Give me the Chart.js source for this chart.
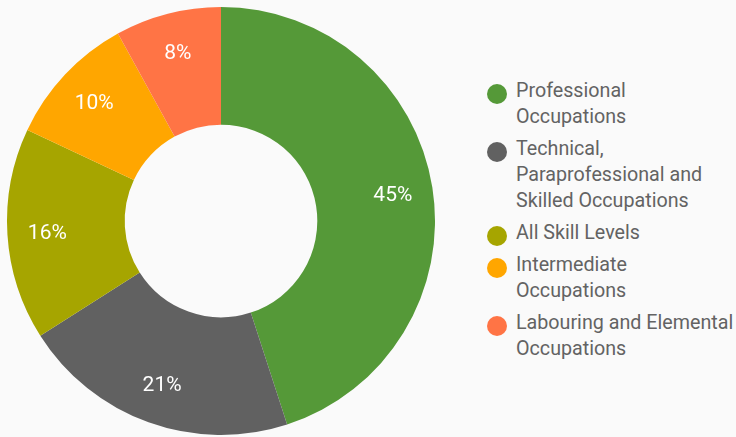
<!DOCTYPE html>
<html>
<head>
<meta charset="utf-8">
<script src="https://cdn.jsdelivr.net/npm/chart.js@4/dist/chart.umd.min.js"></script>
<style>
    html, body {
        margin: 0;
        padding: 0;
        background: #fafafa;
        width: 736px;
        height: 437px;
        overflow: hidden;
        font-family: Roboto, sans-serif;
    }
    #chartBox {
        position: absolute;
        left: 0;
        top: 0;
        width: 442px;
        height: 437px;
    }
    #legend {
        position: absolute;
        left: 487px;
        top: 78px;
        margin: 0;
        padding: 0;
        list-style: none;
        color: #636363;
        font-size: 19.7px;
        line-height: 26px;
    }
    #legend li {
        position: relative;
        padding-left: 29px;
        margin-bottom: 6px;
        white-space: nowrap;
    }
    #legend .dot {
        position: absolute;
        left: 0;
        top: 6px;
        width: 20px;
        height: 20px;
        border-radius: 50%;
    }
</style>
</head>
<body>
<div id="chartBox"><canvas id="occChart"></canvas></div>
<ul id="legend"></ul>
<script>
const categories = [
    ['Professional', 'Occupations'],
    ['Technical,', 'Paraprofessional and', 'Skilled Occupations'],
    ['All Skill Levels'],
    ['Intermediate', 'Occupations'],
    ['Labouring and Elemental', 'Occupations']
];
const shares = [45, 21, 16, 10, 8];
const colors = ['#559938', '#616161', '#a6a500', '#ffa600', '#ff7445'];

// white percentage text inside each slice
const sliceLabels = {
    id: 'sliceLabels',
    afterDatasetsDraw(chart) {
        const ctx = chart.ctx;
        const meta = chart.getDatasetMeta(0);
        ctx.save();
        ctx.fillStyle = '#ffffff';
        ctx.font = '21px Roboto';
        ctx.textAlign = 'center';
        ctx.textBaseline = 'middle';
        meta.data.forEach((arc, i) => {
            const p = arc.getProps(['x', 'y', 'startAngle', 'endAngle', 'innerRadius', 'outerRadius']);
            const mid = (p.startAngle + p.endAngle) / 2;
            const r = p.innerRadius + (p.outerRadius - p.innerRadius) * 0.66;
            ctx.fillText(shares[i] + '%', p.x + Math.cos(mid) * r, p.y + Math.sin(mid) * r + 1.5);
        });
        ctx.restore();
    }
};

const chart = new Chart(document.getElementById('occChart'), {
    type: 'doughnut',
    data: {
        labels: categories.map(c => c.join(' ')),
        datasets: [{
            data: shares,
            backgroundColor: colors,
            borderWidth: 0,
            hoverOffset: 0
        }]
    },
    options: {
        responsive: true,
        maintainAspectRatio: false,
        animation: false,
        cutout: '45%',
        layout: {
            padding: { left: 7, right: 7, top: 7, bottom: 2 }
        },
        plugins: {
            legend: { display: false },
            tooltip: { enabled: false }
        },
        events: []
    },
    plugins: [sliceLabels]
});

// legend on the right with wrapped lines
const legendEl = document.getElementById('legend');
categories.forEach((lines, i) => {
    const li = document.createElement('li');
    const dot = document.createElement('span');
    dot.className = 'dot';
    dot.style.background = colors[i];
    li.appendChild(dot);
    lines.forEach((line, j) => {
        if (j > 0) li.appendChild(document.createElement('br'));
        li.appendChild(document.createTextNode(line));
    });
    legendEl.appendChild(li);
});
</script>
</body>
</html>
